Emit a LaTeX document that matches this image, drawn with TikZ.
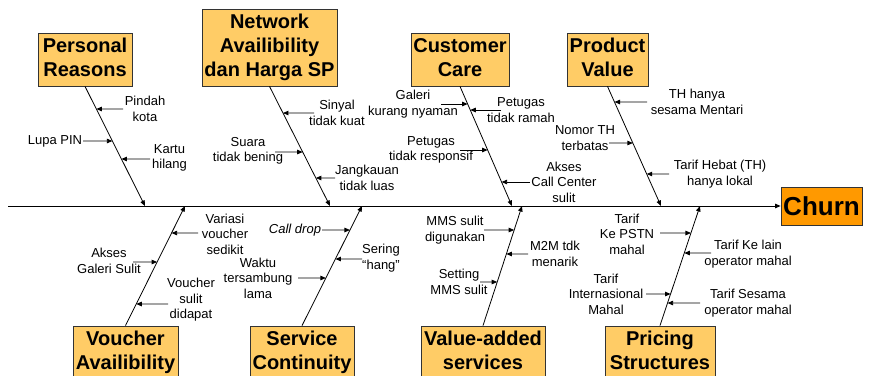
\documentclass[tikz,border=0pt]{standalone}
\usepackage{fontspec}
\setmainfont{Liberation Sans}
\usetikzlibrary{arrows.meta}
\definecolor{boxfill}{HTML}{FFCC66}
\definecolor{churnfill}{HTML}{FF9900}
\definecolor{edge}{HTML}{333333}
\newcommand\bxtop{\rule{0pt}{22pt}}
\newcommand\bxbot{\rule[-4.7pt]{0pt}{4.7pt}}
\newcommand\cause[8]{%
  \node[lbl] (#1) at (#2,#3) {#4};
  \coordinate (#1s) at (#5,#6);
  \coordinate (#1e) at (intersection of #7--#8 and 0,#6--1,#6);
  \draw[sub] (#1s) -- (#1e);}
\tikzset{
  catbox/.style={draw=edge, line width=0.8pt, fill=boxfill, inner sep=0pt,
    align=center, font=\fontsize{20}{24}\selectfont\bfseries,
    execute at begin node=\bxtop, execute at end node=\bxbot},
  lbl/.style={align=center, inner sep=0pt, font=\fontsize{13}{15.5}\selectfont},
  tip/.style={-{Triangle[length=5.5pt,width=4.5pt]}},
  bone/.style={tip, line width=0.8pt},
  sub/.style={tip, line width=0.8pt},
}
\begin{document}
\begin{tikzpicture}[x=1pt,y=-1pt]
\clip (0,0) rectangle (870,375);
\useasboundingbox (0,0) rectangle (870,375);
% effect
\node[draw=edge, line width=0.8pt, fill=churnfill, inner sep=0pt, minimum width=81pt,
  minimum height=38pt, font=\fontsize{26}{30}\selectfont\bfseries] (churn) at (821.5,206) {Churn};
\coordinate (spineS) at (8,206);
\draw[bone, line width=1pt] (spineS) -- (churn.west);
% category boxes
\node[catbox, minimum width=94pt, minimum height=53pt] (pr) at (85,59.5) {Personal\\Reasons};
\node[catbox, minimum width=135pt, minimum height=77pt] (nw) at (269.5,47.5) {Network\\Availibility\\dan Harga SP};
\node[catbox, minimum width=98pt, minimum height=53pt] (cc) at (460,59.5) {Customer\\Care};
\node[catbox, minimum width=81pt, minimum height=53pt] (pv) at (607.5,59.5) {Product\\Value};
\node[catbox, minimum width=105pt, minimum height=53pt] (vo) at (125.5,352.5) {Voucher\\Availibility};
\node[catbox, minimum width=104pt, minimum height=53pt] (sc) at (302,352.5) {Service\\Continuity};
\node[catbox, minimum width=124pt, minimum height=53pt] (va) at (483,352.5) {Value-added\\services};
\node[catbox, minimum width=110pt, minimum height=53pt] (ps) at (660,352.5) {Pricing\\Structures};
% bone ends on spine
\coordinate (prE) at (145,206);
\coordinate (nwE) at (330,206);
\coordinate (ccE) at (512,206);
\coordinate (pvE) at (661,206);
\coordinate (voE) at (185,206);
\coordinate (scE) at (362,206);
\coordinate (vaE) at (522,206);
\coordinate (psE) at (700,206);
\draw[bone] (pr.south) -- (prE);
\draw[bone] (nw.south) -- (nwE);
\draw[bone] (cc.south) -- (ccE);
\draw[bone] (pv.south) -- (pvE);
\draw[bone] (vo.north) -- (voE);
\draw[bone] (sc.north) -- (scE);
\draw[bone] (va.north) -- (vaE);
\draw[bone] (ps.north) -- (psE);
% causes: name, cx, cy, text, start x, arrow y, bone
\cause{c1}{145}{109}{Pindah\\kota}{123}{109}{pr.south}{prE}
\cause{c2}{55}{141}{Lupa PIN}{83}{141}{pr.south}{prE}
\cause{c3}{169.5}{158}{Kartu\\hilang}{150}{159}{pr.south}{prE}
\cause{c4}{337}{113}{Sinyal\\tidak kuat}{314}{113}{nw.south}{nwE}
\cause{c5}{248}{151}{Suara\\tidak bening}{275}{152}{nw.south}{nwE}
\cause{c6}{367}{178}{Jangkauan\\tidak luas}{335}{178}{nw.south}{nwE}
\cause{c7}{413}{104}{Galeri\\kurang nyaman}{441}{104}{cc.south}{ccE}
\cause{c8}{521}{110}{Petugas\\tidak ramah}{501}{110}{cc.south}{ccE}
\cause{c9}{431}{150}{Petugas\\tidak responsif}{460}{150}{cc.south}{ccE}
\cause{c10}{564}{182}{Akses\\Call Center\\sulit}{530}{182}{cc.south}{ccE}
\cause{c11}{697}{102}{TH hanya\\sesama Mentari}{647}{102}{pv.south}{pvE}
\cause{c12}{585}{138}{Nomor TH\\terbatas}{609}{143}{pv.south}{pvE}
\cause{c13}{720}{174}{Tarif Hebat (TH)\\hanya lokal}{669}{174}{pv.south}{pvE}
\cause{c14}{225}{234}{Variasi\\voucher\\sedikit}{198}{233}{vo.north}{voE}
\cause{c15}{109}{261}{Akses\\Galeri Sulit}{133}{262}{vo.north}{voE}
\cause{c16}{191}{300}{Voucher\\sulit\\didapat}{168}{304}{vo.north}{voE}
\cause{c17}{295}{230}{\itshape Call drop}{322}{230}{sc.north}{scE}
\cause{c18}{258}{278}{Waktu\\tersambung\\lama}{298}{278}{sc.north}{scE}
\cause{c19}{381}{258}{Sering\\“hang”}{362}{259}{sc.north}{scE}
\cause{c20}{455}{230}{MMS sulit\\digunakan}{484}{230}{va.north}{vaE}
\cause{c21}{555}{254}{M2M tdk\\menarik}{528}{254}{va.north}{vaE}
\cause{c22}{459}{282}{Setting\\MMS sulit}{480}{282}{va.north}{vaE}
\cause{c23}{627}{234}{Tarif\\Ke PSTN\\mahal}{660}{233}{ps.north}{psE}
\cause{c24}{748}{254}{Tarif Ke lain\\operator mahal}{711}{253}{ps.north}{psE}
\cause{c25}{606}{294}{Tarif\\Internasional\\Mahal}{646}{294}{ps.north}{psE}
\cause{c26}{748}{303}{Tarif Sesama\\operator mahal}{700}{303}{ps.north}{psE}
\end{tikzpicture}
\end{document}
